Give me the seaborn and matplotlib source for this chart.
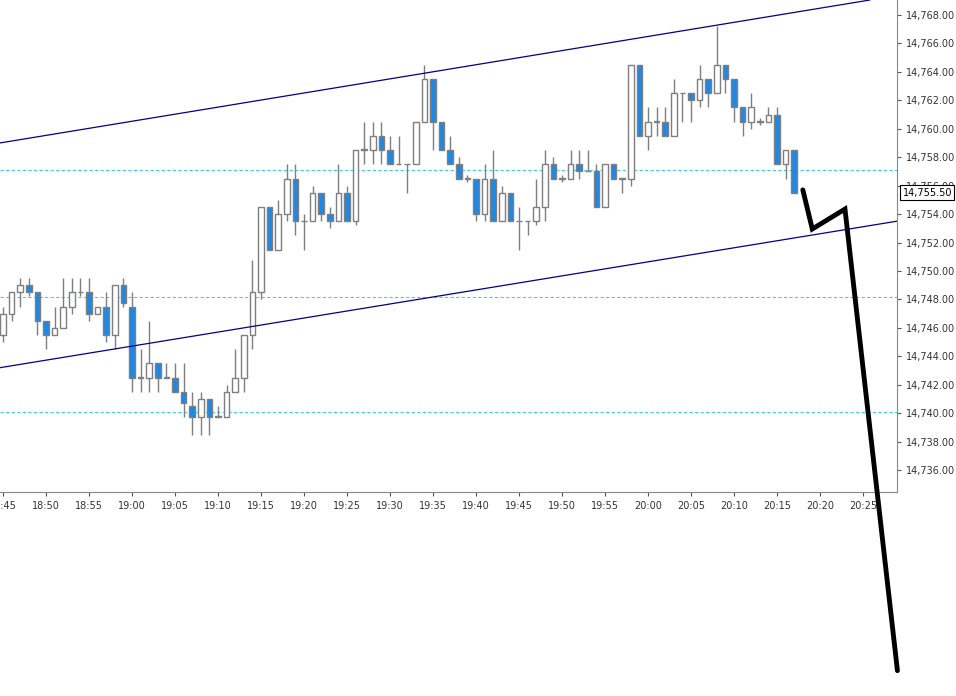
import matplotlib
matplotlib.use("Agg")
import matplotlib.pyplot as plt
from matplotlib.ticker import FuncFormatter, MultipleLocator
import seaborn as sns
import numpy as np

sns.set_style("white")
plt.rcParams['font.family'] = ['DejaVu Sans']

# one-minute candles starting 18:45, prices minus 14700
opens = [45.5, 47.0, 48.5, 49.0, 48.5, 46.5, 45.5, 46.0, 47.5, 48.5,
         48.5, 47.0, 47.5, 45.5, 49.0, 47.5, 42.5, 42.5, 43.5, 42.5,
         42.5, 41.5, 40.5, 39.75, 41.0, 39.75, 39.75, 41.5, 42.5, 45.5,
         48.5, 54.5, 51.5, 54.0, 56.5, 53.5, 53.5, 55.5, 54.0, 53.5,
         55.5, 53.5, 58.5, 58.5, 59.5, 58.5, 57.5, 57.5, 57.5, 60.5,
         63.5, 60.5, 58.5, 57.5, 56.5, 56.5, 54.0, 56.5, 53.5, 55.5,
         53.5, 53.5, 53.5, 54.5, 57.5, 56.5, 56.5, 57.5, 57.0, 57.0,
         54.5, 57.5, 56.5, 56.5, 64.5, 59.5, 60.5, 60.5, 59.5, 62.5,
         62.5, 62.0, 63.5, 62.5, 64.5, 63.5, 61.5, 60.5, 60.5, 60.5,
         61.0, 57.5, 58.5]
highs = [47.5, 48.5, 49.5, 49.5, 48.5, 46.5, 47.5, 49.5, 49.5, 49.5,
         49.5, 47.5, 48.5, 49.0, 49.5, 48.5, 44.5, 46.5, 43.5, 43.5,
         43.5, 43.5, 41.5, 41.5, 41.0, 40.5, 42.0, 44.5, 45.5, 50.75,
         54.5, 54.5, 55.0, 57.5, 57.5, 54.0, 56.0, 55.5, 54.5, 57.5,
         56.0, 58.5, 60.5, 60.5, 60.5, 59.5, 59.5, 57.5, 60.5, 64.5,
         63.5, 60.5, 59.5, 58.0, 56.75, 56.5, 57.5, 58.5, 56.0, 55.5,
         54.5, 53.5, 56.5, 58.5, 58.0, 56.75, 58.5, 58.5, 58.5, 57.5,
         57.5, 57.5, 56.5, 64.5, 64.5, 61.5, 61.5, 61.5, 63.5, 62.5,
         62.5, 64.5, 63.5, 67.25, 64.5, 63.5, 61.5, 62.5, 60.75, 61.5,
         61.5, 58.5, 58.5]
lows = [45.0, 46.5, 47.5, 48.25, 45.5, 44.5, 45.5, 46.0, 47.0, 48.25,
        46.5, 47.0, 45.0, 44.5, 47.5, 41.5, 41.5, 41.5, 41.5, 42.5,
        41.5, 39.75, 38.5, 38.5, 38.5, 39.75, 39.75, 41.5, 41.5, 44.5,
        48.0, 51.5, 51.5, 53.5, 52.5, 51.5, 53.5, 53.5, 53.0, 53.5,
        53.5, 53.25, 57.5, 57.5, 57.5, 57.5, 57.5, 55.5, 57.5, 60.5,
        58.5, 58.5, 57.5, 56.5, 56.25, 53.5, 53.5, 53.5, 53.5, 53.5,
        51.5, 52.5, 53.25, 53.5, 56.5, 56.25, 56.5, 56.5, 57.0, 54.5,
        54.5, 56.5, 55.5, 56.0, 59.5, 58.5, 59.5, 59.5, 59.5, 60.5,
        60.5, 61.5, 61.5, 62.5, 62.5, 60.5, 59.5, 60.0, 60.25, 60.5,
        57.5, 56.5, 55.5]
closes = [47.0, 48.5, 49.0, 48.5, 46.5, 45.5, 46.0, 47.5, 48.5, 48.5,
          47.0, 47.5, 45.5, 49.0, 47.75, 42.5, 42.5, 43.5, 42.5, 42.5,
          41.5, 40.75, 39.75, 41.0, 39.75, 39.75, 41.5, 42.5, 45.5, 48.5,
          54.5, 51.5, 54.0, 56.5, 53.5, 53.5, 55.5, 54.0, 53.5, 55.5,
          53.5, 58.5, 58.5, 59.5, 58.5, 57.5, 57.5, 57.5, 60.5, 63.5,
          60.5, 58.5, 57.5, 56.5, 56.5, 54.0, 56.5, 53.5, 55.5, 53.5,
          53.5, 53.5, 54.5, 57.5, 56.5, 56.5, 57.5, 57.0, 57.0, 54.5,
          57.5, 56.5, 56.5, 64.5, 59.5, 60.5, 60.5, 59.5, 62.5, 62.5,
          62.0, 63.5, 62.5, 64.5, 63.5, 61.5, 60.5, 61.5, 60.5, 61.0,
          57.5, 58.5, 55.5]
base = 14700
time_labels = ["18:45", "18:50", "18:55", "19:00", "19:05", "19:10", "19:15",
               "19:20", "19:25", "19:30", "19:35", "19:40", "19:45", "19:50",
               "19:55", "20:00", "20:05", "20:10", "20:15", "20:20", "20:25"]

# channel lines (index, price)
upper_x = [-0.35, 100.8]
upper_y = [14759.0, 14769.05]
lower_x = [-0.35, 103.95]
lower_y = [14743.2, 14753.5]
levels = [14757.1, 14748.2, 14740.1]
sketch_x = [93.0, 94.1, 97.9, 104.0]
sketch_y = [14755.7, 14752.95, 14754.35, 14721.9]
last_price = 14755.5

o = np.array(opens) + base
h = np.array(highs) + base
l = np.array(lows) + base
c = np.array(closes) + base
idx = np.arange(len(o))

fig = plt.figure(figsize=(9.56, 6.96), dpi=100)
ax = fig.add_axes([0, 1 - 492 / 696, 897 / 956, 492 / 696])

blue = "#1e88e5"
edge = "#7f7f7f"
up = c >= o
ax.vlines(idx, l, h, color=edge, lw=1, zorder=2)
bottoms = np.minimum(o, c)
heights = np.maximum(np.abs(c - o), 0.04)
ax.bar(idx[up], heights[up], bottom=bottoms[up], width=0.65,
       color="white", edgecolor=edge, lw=1, zorder=3)
ax.bar(idx[~up], heights[~up], bottom=bottoms[~up], width=0.65,
       color=blue, edgecolor=edge, lw=1, zorder=3)

for lv in levels:
    ax.axhline(lv, color="#40d0e0", ls=(0, (3, 2)), lw=0.8, zorder=1)
ax.plot(upper_x, upper_y, color="#00008b", lw=0.9, zorder=4)
ax.plot(lower_x, lower_y, color="#00008b", lw=0.9, zorder=4)
ax.plot(sketch_x, sketch_y, color="black", lw=3.5, clip_on=False, zorder=6,
        solid_capstyle="round", solid_joinstyle="miter")

ax.set_xlim(-0.35, 103.95)
ax.set_ylim(14734.46, 14769.05)
ax.yaxis.tick_right()
ax.yaxis.set_major_locator(MultipleLocator(2))
ax.yaxis.set_major_formatter(FuncFormatter(lambda v, p: f"{v:,.2f}"))
ax.set_xticks(np.arange(len(time_labels)) * 5)
ax.set_xticklabels(time_labels)
ax.tick_params(axis="both", labelsize=7, length=3, color="#555555",
               labelcolor="#333333", direction="out", bottom=True, right=True)
for s in ["top", "left"]:
    ax.spines[s].set_visible(False)
for s in ["right", "bottom"]:
    ax.spines[s].set_color("#888888")
    ax.spines[s].set_linewidth(0.8)

ax.annotate(f"{last_price:,.2f}", xy=(1.0, last_price), xycoords=("axes fraction", "data"),
            xytext=(4, 0), textcoords="offset points", va="center", ha="left",
            fontsize=7, color="black", zorder=10,
            bbox=dict(boxstyle="square,pad=0.25", fc="white", ec="black", lw=0.8))

fig.savefig("out.png", dpi=100)
